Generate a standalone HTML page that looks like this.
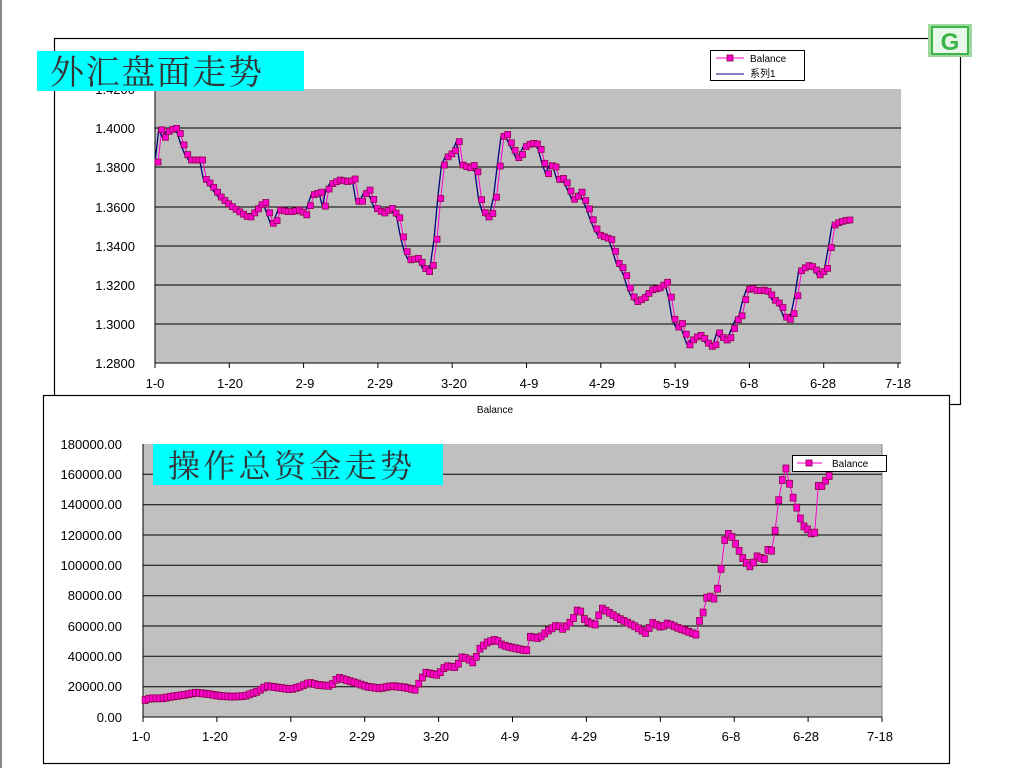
<!DOCTYPE html>
<html><head><meta charset="utf-8">
<style>
html,body{margin:0;padding:0;background:#fff;width:1027px;height:768px;overflow:hidden}
svg{display:block}
text{font-family:"Liberation Sans","Noto Sans CJK SC",sans-serif}
.cn{font-family:"Noto Serif CJK SC","Liberation Serif",serif}
</style></head>
<body>
<svg id="s" width="1027" height="768" xmlns="http://www.w3.org/2000/svg">
<rect x="0" y="0" width="2" height="768" fill="#888"/>
<rect x="54.5" y="38.5" width="906" height="366" fill="#fff" stroke="#000" stroke-width="1.2"/>
<rect x="155" y="89" width="746" height="274" fill="#c0c0c0"/>
<g stroke="#000" stroke-width="1">
<line x1="155" y1="128" x2="901" y2="128"/><line x1="155" y1="167" x2="901" y2="167"/>
<line x1="155" y1="207" x2="901" y2="207"/><line x1="155" y1="246" x2="901" y2="246"/>
<line x1="155" y1="285" x2="901" y2="285"/><line x1="155" y1="324" x2="901" y2="324"/>
<line x1="155" y1="363" x2="901" y2="363"/><line x1="155" y1="89" x2="155" y2="363"/>
</g>
<g id="tticks" stroke="#000"></g>
<g font-size="13" text-anchor="end" fill="#000">
<text x="135" y="94">1.4200</text><text x="135" y="133">1.4000</text><text x="135" y="172">1.3800</text>
<text x="135" y="212">1.3600</text><text x="135" y="251">1.3400</text><text x="135" y="290">1.3200</text>
<text x="135" y="329">1.3000</text><text x="135" y="368">1.2800</text>
</g>
<g font-size="13" text-anchor="middle" fill="#000">
<text x="155" y="388">1-0</text><text x="230" y="388">1-20</text><text x="305" y="388">2-9</text>
<text x="380" y="388">2-29</text><text x="454" y="388">3-20</text><text x="529" y="388">4-9</text>
<text x="602" y="388">4-29</text><text x="676" y="388">5-19</text><text x="749" y="388">6-8</text>
<text x="823" y="388">6-28</text><text x="898" y="388">7-18</text>
</g>
<g id="top"></g>
<rect x="37" y="51" width="267" height="40" fill="#00ffff"/>
<text class="cn" x="50" y="84" font-size="34" textLength="212" fill="#333">外汇盘面走势</text>
<rect x="710.5" y="50.5" width="94" height="30" fill="#fff" stroke="#000"/>
<line x1="716" y1="58" x2="744" y2="58" stroke="#ff00cc"/>
<rect x="727" y="55" width="6" height="6" fill="#ff00cc" stroke="#800040" stroke-width="0.8"/>
<text x="750" y="62" font-size="10">Balance</text>
<line x1="716" y1="74" x2="744" y2="74" stroke="#000080"/>
<text x="750" y="77" font-size="10">系列1</text>
<rect x="928" y="24" width="44" height="33" fill="#9fd89f"/>
<rect x="932" y="27" width="36" height="27" fill="#e8f8e8" stroke="#3cb54a" stroke-width="2"/>
<text x="950" y="50" font-size="24" font-weight="bold" text-anchor="middle" fill="#3cb54a">G</text>

<rect x="43.5" y="395.5" width="906" height="368" fill="#fff" stroke="#000" stroke-width="1.2"/>
<text x="495" y="413" font-size="10" text-anchor="middle">Balance</text>
<rect x="143" y="444" width="739" height="273" fill="#c0c0c0"/>
<g stroke="#000" stroke-width="1">
<line x1="143" y1="474.3" x2="882" y2="474.3"/><line x1="143" y1="504.7" x2="882" y2="504.7"/>
<line x1="143" y1="535" x2="882" y2="535"/><line x1="143" y1="565.3" x2="882" y2="565.3"/>
<line x1="143" y1="595.7" x2="882" y2="595.7"/><line x1="143" y1="626" x2="882" y2="626"/>
<line x1="143" y1="656.3" x2="882" y2="656.3"/><line x1="143" y1="686.7" x2="882" y2="686.7"/>
<line x1="143" y1="717" x2="882" y2="717"/><line x1="143" y1="444" x2="143" y2="717"/>
<line x1="882" y1="444" x2="882" y2="717" stroke="#888"/>
</g>
<g id="bticks" stroke="#000"></g>
<g font-size="13" text-anchor="end" fill="#000">
<text x="122" y="449">180000.00</text><text x="122" y="479">160000.00</text><text x="122" y="509">140000.00</text>
<text x="122" y="540">120000.00</text><text x="122" y="570">100000.00</text><text x="122" y="600">80000.00</text>
<text x="122" y="631">60000.00</text><text x="122" y="661">40000.00</text><text x="122" y="691">20000.00</text>
<text x="122" y="722">0.00</text>
</g>
<g font-size="13" text-anchor="middle" fill="#000">
<text x="141" y="741">1-0</text><text x="215" y="741">1-20</text><text x="288" y="741">2-9</text>
<text x="362" y="741">2-29</text><text x="436" y="741">3-20</text><text x="510" y="741">4-9</text>
<text x="584" y="741">4-29</text><text x="657" y="741">5-19</text><text x="731" y="741">6-8</text>
<text x="806" y="741">6-28</text><text x="880" y="741">7-18</text>
</g>
<g id="bot"></g>
<rect x="153" y="444" width="290" height="41" fill="#00ffff"/>
<text class="cn" x="168" y="477" font-size="32" textLength="244" fill="#333">操作总资金走势</text>
<rect x="792.5" y="455.5" width="94" height="16" fill="#fff" stroke="#000"/>
<line x1="797" y1="463" x2="822" y2="463" stroke="#ff00cc"/>
<rect x="806" y="460" width="6" height="6" fill="#ff00cc" stroke="#800040" stroke-width="0.8"/>
<text x="832" y="467" font-size="10">Balance</text>
</svg>
<script>
var NS="http://www.w3.org/2000/svg";
function el(p,t,a){var e=document.createElementNS(NS,t);for(var k in a)e.setAttribute(k,a[k]);p.appendChild(e);return e;}
var tt=document.getElementById('tticks');
for(var i=0;i<=10;i++){var x=155+i*74.3;el(tt,'line',{x1:x,y1:363,x2:x,y2:368});}
var bt=document.getElementById('bticks');
for(var i=0;i<=10;i++){var x=143+i*73.9;el(bt,'line',{x1:x,y1:717,x2:x,y2:722});}
function interp(pts,step){var out=[];for(var x=pts[0][0];x<=pts[pts.length-1][0];x+=step){for(var j=0;j<pts.length-1;j++){if(x>=pts[j][0]&&x<=pts[j+1][0]){var a=pts[j],b=pts[j+1];var t=(b[0]==a[0])?0:(x-a[0])/(b[0]-a[0]);out.push([x,a[1]+t*(b[1]-a[1])]);break;}}}return out;}
var T=[[158,162],[161,128],[165,138],[170,130],[178,128],[181,135],[185,148],[190,160],[196,160],[203,160],[205,178],[212,185],[222,198],[230,205],[240,212],[250,218],[262,205],[265,200],[275,228],[280,210],[290,212],[300,210],[307,215],[310,208],[313,195],[322,192],[325,208],[330,185],[340,180],[350,182],[355,178],[360,208],[365,195],[370,190],[378,210],[385,213],[392,208],[400,218],[405,245],[410,260],[420,258],[425,268],[430,272],[435,262],[440,205],[445,160],[450,155],[455,152],[460,140],[463,165],[470,168],[475,165],[478,172],[483,210],[490,218],[495,210],[500,168],[505,128],[510,140],[515,150],[520,160],[527,145],[535,143],[540,145],[548,175],[555,160],[558,180],[565,178],[575,200],[582,192],[590,210],[595,225],[600,235],[605,237],[613,240],[618,262],[625,270],[632,293],[637,302],[645,298],[652,290],[660,288],[668,282],[672,300],[676,325],[680,328],[682,322],[690,345],[695,338],[702,335],[710,345],[715,348],[720,332],[725,340],[730,340],[738,320],[742,316],[748,290],[752,288],[758,291],[765,290],[770,292],[775,300],[782,305],[787,318],[792,320],[797,305],[800,272],[805,268],[810,265],[815,268],[820,275],[828,268],[835,225],[840,222],[848,220],[853,220]];
var tp=interp(T,3.72);
var g=document.getElementById('top');
var pb=tp.map(function(p){return (p[0]-3).toFixed(1)+','+p[1].toFixed(1);}).join(' ');
var pm=tp.map(function(p){return p[0].toFixed(1)+','+p[1].toFixed(1);}).join(' ');
el(g,'polyline',{points:pm,fill:'none',stroke:'#ff00cc','stroke-width':1});
el(g,'polyline',{points:pb,fill:'none',stroke:'#000080','stroke-width':1.3});
tp.forEach(function(p){el(g,'rect',{x:p[0]-3,y:p[1]-3,width:6,height:6,fill:'#ff00cc',stroke:'#800040','stroke-width':0.7});});
var B=[[237,930],[245,925],[265,925],[280,920],[300,915],[320,908],[340,912],[360,918],[380,920],[400,918],[420,905],[435,888],[455,893],[475,898],[490,890],[505,878],[520,885],[540,888],[552,862],[565,870],[580,878],[600,890],[620,895],[640,888],[660,892],[680,900],[685,875],[695,848],[715,855],[728,828],[745,832],[755,800],[770,812],[775,825],[780,782],[795,758],[810,748],[820,765],[830,770],[842,775],[860,782],[865,740],[880,745],[895,722],[910,705],[920,718],[935,690],[945,652],[955,690],[965,700],[975,705],[980,652],[995,668],[1010,685],[1025,698],[1040,712],[1055,730],[1065,698],[1080,712],[1090,700],[1105,712],[1120,722],[1138,735],[1142,694],[1150,660],[1155,615],[1168,628],[1175,568],[1180,508],[1185,425],[1195,440],[1205,475],[1215,512],[1227,533],[1235,498],[1248,508],[1255,475],[1262,485],[1270,352],[1275,288],[1283,232],[1288,272],[1295,322],[1305,373],[1310,405],[1320,420],[1330,442],[1335,288],[1345,288],[1350,262],[1357,255]].map(function(p){return [p[0]/1.633,390+p[1]/3];});
var bp=interp(B,3.6);
var gb=document.getElementById('bot');
el(gb,'polyline',{points:bp.map(function(p){return p[0].toFixed(1)+','+p[1].toFixed(1);}).join(' '),fill:'none',stroke:'#ff00cc','stroke-width':1});
bp.forEach(function(p){el(gb,'rect',{x:p[0]-3,y:p[1]-3.5,width:6,height:7,fill:'#ff00cc',stroke:'#800040','stroke-width':0.7});});
</script>
</body></html>
